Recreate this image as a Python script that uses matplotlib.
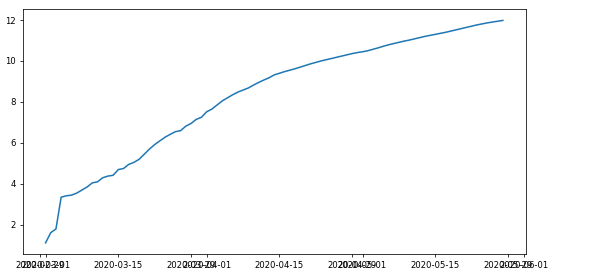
import numpy as np
import pandas as pd
import matplotlib
matplotlib.use("Agg")
import matplotlib.pyplot as plt

start_date = "2020-03-01"
values = [1.12, 1.62, 1.80, 3.35, 3.42, 3.45, 3.55, 3.70, 3.85, 4.05,
          4.10, 4.30, 4.38, 4.42, 4.70, 4.75, 4.95, 5.05, 5.20, 5.45,
          5.70, 5.92, 6.10, 6.28, 6.42, 6.55, 6.60, 6.82, 6.95, 7.15,
          7.25, 7.52, 7.65, 7.85, 8.05, 8.20, 8.35, 8.48, 8.58, 8.68,
          8.82, 8.95, 9.07, 9.18, 9.32, 9.40, 9.48, 9.55, 9.62, 9.70,
          9.78, 9.86, 9.93, 10.00, 10.06, 10.12, 10.18, 10.24, 10.30, 10.36,
          10.41, 10.45, 10.50, 10.57, 10.64, 10.72, 10.79, 10.85, 10.91, 10.97,
          11.02, 11.08, 11.14, 11.20, 11.25, 11.30, 11.35, 11.40, 11.46, 11.52,
          11.58, 11.64, 11.70, 11.76, 11.81, 11.86, 11.90, 11.94, 11.98]
dates = pd.date_range(start_date, periods=len(values), freq="D")

tick_dates = ["2020-02-29", "2020-03-01", "2020-03-15", "2020-03-29", "2020-04-01",
              "2020-04-15", "2020-04-29", "2020-05-01", "2020-05-15", "2020-05-29",
              "2020-06-01"]

fs = 6.1
fig = plt.figure(figsize=(5.93, 2.77), dpi=100)
ax = fig.add_axes([22.7 / 593, 1 - 254 / 277, (525.7 - 22.7) / 593, (254 - 9.3) / 277])
ax.plot(dates, values, color="#1f77b4", lw=1.1)

ticks = pd.to_datetime(tick_dates)
ax.set_xticks(ticks)
ax.set_xticklabels([t.strftime("%Y-%m-%d") for t in ticks], fontsize=fs)
ax.tick_params(axis="y", labelsize=fs)
ax.tick_params(length=2.4, width=0.55, pad=2.4)
for s in ax.spines.values():
    s.set_linewidth(0.55)

fig.savefig("out.png", dpi=100)
